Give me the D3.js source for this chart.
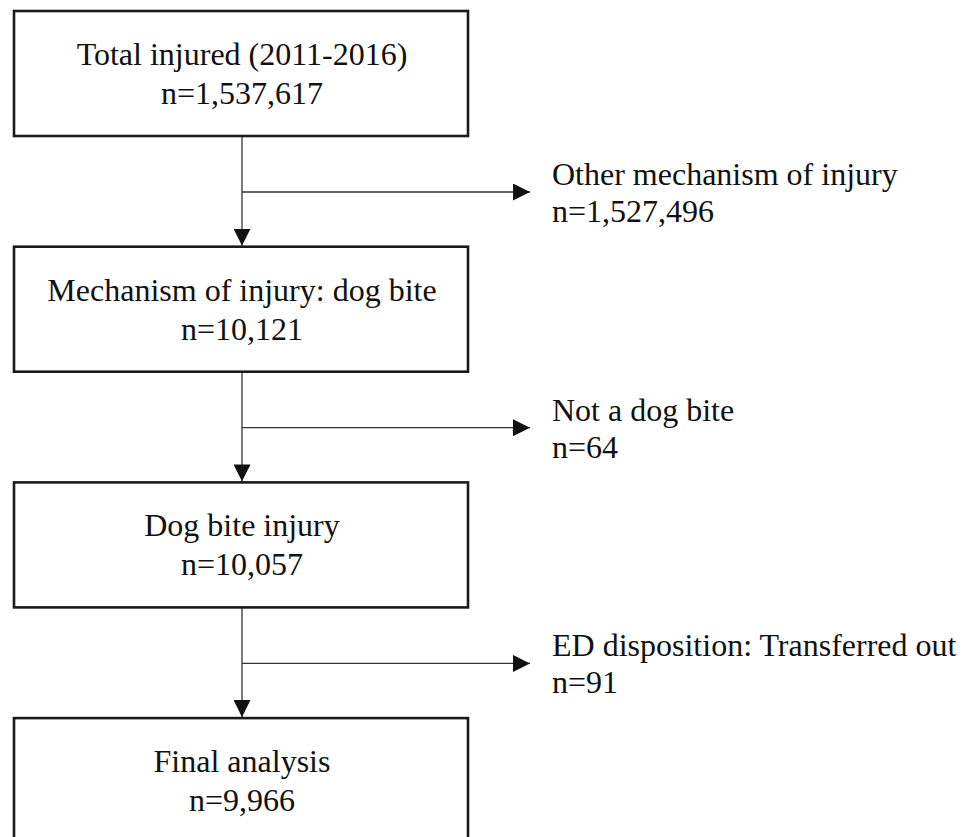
<!DOCTYPE html>
<html lang="en">
<head>
    <meta charset="UTF-8">
    <title>Dog bite flow chart</title>
    <script src="https://d3js.org/d3.v7.min.js"></script>
    <style>
        body {
            margin: 0;
            background-color: #fff;
        }
        .box {
            fill: #fff;
            stroke: #1a1a1a;
            stroke-width: 2.6px;
        }
        .link {
            stroke: #333;
            stroke-width: 1.3px;
            fill: none;
        }
        .label {
            font-family: "Liberation Serif", "Times New Roman", serif;
            font-size: 32px;
            fill: #111;
        }
    </style>
</head>
<body>
    <svg id="flow" width="974" height="837"></svg>
    <script>
        // Main steps of the flow
        const stepLabels = [
            "Total injured (2011-2016)",
            "Mechanism of injury: dog bite",
            "Dog bite injury",
            "Final analysis"
        ];
        const stepCounts = [1537617, 10121, 10057, 9966];

        // Excluded branches (between step i and i+1)
        const exclLabels = [
            "Other mechanism of injury",
            "Not a dog bite",
            "ED disposition: Transferred out"
        ];
        const exclCounts = [1527496, 64, 91];

        const width = 974, height = 837;
        const boxLeft = 14, boxRight = 468, boxH = 125;
        const cx = 242;
        const fmt = d3.format(",");

        // step index -> top of box
        const yTop = d3.scaleLinear().domain([0, 1]).range([11, 246.7]);
        // branch index -> y of side arrow
        const yBranch = i => yTop(i) + boxH + 56;

        const svg = d3.select("#flow");

        svg.append("defs").append("marker")
            .attr("id", "head")
            .attr("viewBox", "0 0 17 17")
            .attr("refX", 17)
            .attr("refY", 8.5)
            .attr("markerWidth", 17)
            .attr("markerHeight", 17)
            .attr("markerUnits", "userSpaceOnUse")
            .attr("orient", "auto")
            .append("path")
            .attr("d", "M0,0 L17,8.5 L0,17 Z")
            .attr("fill", "#111");

        // vertical links between boxes
        svg.selectAll(".down")
            .data(d3.range(stepLabels.length - 1))
            .enter()
            .append("line")
            .attr("class", "link down")
            .attr("x1", cx)
            .attr("x2", cx)
            .attr("y1", i => yTop(i) + boxH)
            .attr("y2", i => yTop(i + 1) - 1)
            .attr("marker-end", "url(#head)");

        // side links to exclusions
        svg.selectAll(".side")
            .data(exclLabels)
            .enter()
            .append("line")
            .attr("class", "link side")
            .attr("x1", cx)
            .attr("x2", 530)
            .attr("y1", (d, i) => yBranch(i))
            .attr("y2", (d, i) => yBranch(i))
            .attr("marker-end", "url(#head)");

        // boxes
        svg.selectAll(".box")
            .data(stepLabels)
            .enter()
            .append("rect")
            .attr("class", "box")
            .attr("x", boxLeft)
            .attr("y", (d, i) => yTop(i))
            .attr("width", boxRight - boxLeft)
            .attr("height", boxH);

        // box texts
        const boxText = svg.selectAll(".boxtext")
            .data(stepLabels)
            .enter()
            .append("text")
            .attr("class", "label")
            .attr("text-anchor", "middle");
        boxText.append("tspan")
            .attr("x", cx)
            .attr("y", (d, i) => yTop(i) + 54)
            .text(d => d);
        boxText.append("tspan")
            .attr("x", cx)
            .attr("y", (d, i) => yTop(i) + 93)
            .text((d, i) => "n=" + fmt(stepCounts[i]));

        // exclusion texts
        const sideText = svg.selectAll(".sidetext")
            .data(exclLabels)
            .enter()
            .append("text")
            .attr("class", "label");
        sideText.append("tspan")
            .attr("x", 552)
            .attr("y", (d, i) => yBranch(i) - 7)
            .text(d => d);
        sideText.append("tspan")
            .attr("x", 552)
            .attr("y", (d, i) => yBranch(i) + 30)
            .text((d, i) => "n=" + fmt(exclCounts[i]));
    </script>
</body>
</html>
